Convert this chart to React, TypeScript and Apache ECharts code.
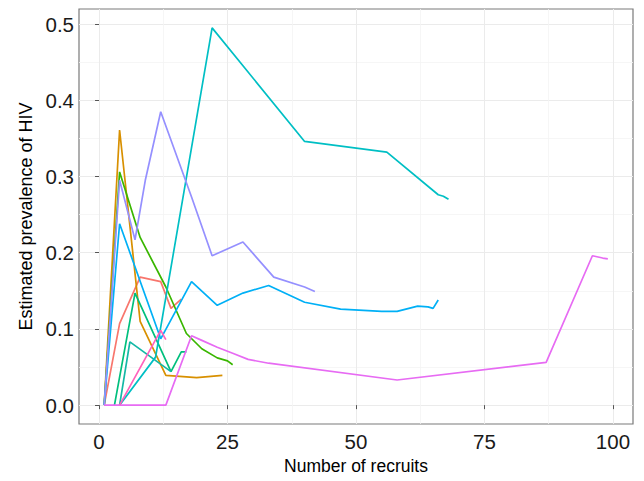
import React, { useEffect, useRef } from "react";
import * as echarts from "echarts";

const xTicks = [0, 25, 50, 75, 100];
const xMinor = [12.5, 37.5, 62.5, 87.5];
const yTicks = [0, 0.1, 0.2, 0.3, 0.4, 0.5];
const yMinor = [0.05, 0.15, 0.25, 0.35, 0.45];

const redS = [[1, 0], [4, 0.107], [8, 0.168], [12, 0.162], [14, 0.127], [16, 0.139]];
const orangeS = [[1, 0], [4, 0.361], [8, 0.11], [13, 0.039], [19, 0.036], [24, 0.039]];
const greenS = [[1, 0], [4, 0.306], [8, 0.22], [13, 0.155], [17, 0.094], [20, 0.074], [23, 0.062], [25, 0.058], [26, 0.053]];
const tealS = [[3, 0], [7, 0.147], [14, 0.044], [16, 0.07], [17, 0.07]];
const teal2S = [[4, 0], [6, 0.083], [14, 0.044]];
const cyanS = [[4, 0], [11, 0.063], [22, 0.495], [40, 0.346], [56, 0.332], [66, 0.276], [67, 0.274], [68, 0.27]];
const blueS = [[1, 0], [4, 0.238], [12, 0.087], [18, 0.162], [23, 0.131], [28, 0.147], [33, 0.157], [40, 0.135], [47, 0.126], [55, 0.123], [58, 0.123], [62, 0.13], [64, 0.129], [65, 0.127], [66, 0.138]];
const purpleS = [[1, 0], [4, 0.295], [7, 0.217], [9, 0.295], [12, 0.385], [18, 0.273], [22, 0.196], [28, 0.214], [34, 0.168], [40, 0.155], [42, 0.149]];
const magentaS = [[1, 0], [13, 0], [18, 0.091], [20, 0.085], [23, 0.076], [26, 0.068], [29, 0.06], [33, 0.055], [58, 0.033], [87, 0.056], [96, 0.196], [98, 0.193], [99, 0.192]];
const pinkS = [[4, 0], [12, 0.098], [13, 0.086]];

const seriesList = [
  { name: "1", color: "#F8766D", data: redS },
  { name: "2", color: "#D89000", data: orangeS },
  { name: "3", color: "#39B600", data: greenS },
  { name: "4", color: "#00BF7D", data: tealS },
  { name: "4b", color: "#14B8A6", data: teal2S },
  { name: "5", color: "#00BFC4", data: cyanS },
  { name: "6", color: "#00B0F6", data: blueS },
  { name: "7", color: "#9590FF", data: purpleS },
  { name: "8", color: "#E76BF3", data: magentaS },
  { name: "9", color: "#FF62BC", data: pinkS },
];

const XMIN = -3.9, XMAX = 103.9, YMIN = -0.02475, YMAX = 0.51975;
const FONT = "Liberation Sans, Arial, sans-serif";

export default function App() {
  const ref = useRef<HTMLDivElement>(null);
  useEffect(() => {
    const chart = echarts.init(ref.current!, null, { renderer: "svg" });
    const gridCol = "#ebebeb";
    const minorCol = "#f4f4f4";
    chart.setOption({
      animation: false,
      backgroundColor: "#ffffff",
      grid: { left: 79, right: 11, top: 9, bottom: 57, show: true, borderColor: "#7a7a7a", borderWidth: 1.2, backgroundColor: "transparent" },
      xAxis: [
        {
          type: "value", min: XMIN, max: XMAX, gridIndex: 0, position: "bottom",
          name: "Number of recruits", nameLocation: "middle", nameGap: 33,
          nameTextStyle: { fontFamily: FONT, fontSize: 17.5, color: "#000" },
          axisLine: { show: false },
          axisTick: { show: true, length: 4, customValues: xTicks, lineStyle: { color: "#555" } },
          axisLabel: { customValues: xTicks, fontFamily: FONT, fontSize: 20.5, color: "#1a1a1a", margin: 7 },
          splitLine: { show: true, lineStyle: { color: gridCol, width: 1 } },
        },
        {
          type: "value", min: XMIN, max: XMAX, gridIndex: 0, position: "bottom",
          axisLine: { show: false },
          axisTick: { show: false, customValues: xMinor },
          axisLabel: { show: false, customValues: xMinor },
          splitLine: { show: true, lineStyle: { color: minorCol, width: 0.8 } },
        },
      ],
      yAxis: [
        {
          type: "value", min: YMIN, max: YMAX, gridIndex: 0, position: "left",
          name: "Estimated prevalence of HIV", nameLocation: "middle", nameGap: 42,
          nameTextStyle: { fontFamily: FONT, fontSize: 18, color: "#000" },
          axisLine: { show: false },
          axisTick: { show: true, length: 4, customValues: yTicks, lineStyle: { color: "#555" } },
          axisLabel: { customValues: yTicks, fontFamily: FONT, fontSize: 20.5, color: "#1a1a1a", margin: 5, formatter: (v: number) => v.toFixed(1) },
          splitLine: { show: true, lineStyle: { color: gridCol, width: 1 } },
        },
        {
          type: "value", min: YMIN, max: YMAX, gridIndex: 0, position: "left",
          axisLine: { show: false },
          axisTick: { show: false, customValues: yMinor },
          axisLabel: { show: false, customValues: yMinor },
          splitLine: { show: true, lineStyle: { color: minorCol, width: 0.8 } },
        },
      ],
      series: seriesList.map((s) => ({
        type: "line",
        name: s.name,
        data: s.data,
        xAxisIndex: 0,
        yAxisIndex: 0,
        showSymbol: false,
        symbol: "none",
        lineStyle: { color: s.color, width: 1.7 },
        itemStyle: { color: s.color },
        z: 3,
      })),
    });
    return () => chart.dispose();
  }, []);
  return <div ref={ref} style={{ width: 644, height: 481, position: "fixed", left: 0, top: 0 }} />;
}
